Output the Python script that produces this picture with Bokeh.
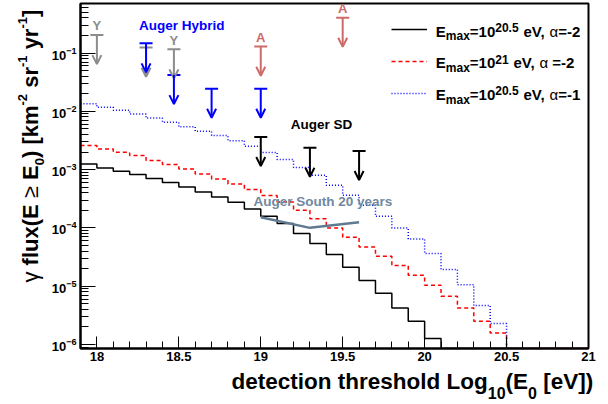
import math
from bokeh.plotting import figure
from bokeh.layouts import column, row
from bokeh.models import (ColumnDataSource, Label, LabelSet, Arrow, OpenHead,
                          FixedTicker, Range1d, Legend, LegendItem)
from bokeh.core.properties import value
from bokeh.embed import file_html
from bokeh.resources import INLINE

# ---------------- data ----------------
bin_edges = [17.9, 18.0, 18.1, 18.2, 18.3, 18.4, 18.5, 18.6, 18.7, 18.8, 18.9,
             19.0, 19.1, 19.2, 19.3, 19.4, 19.5, 19.6, 19.7, 19.8, 19.9,
             20.0, 20.1, 20.2, 20.3, 20.4, 20.5, 20.6, 20.7, 20.8, 20.9, 21.0]

flux_205_a2 = [1.25e-3, 1.06e-3, 9.35e-4, 8.2e-4, 7.0e-4, 5.99e-4, 5.03e-4, 4.13e-4,
               3.39e-4, 2.75e-4, 2.11e-4, 1.58e-4, 1.19e-4, 7.98e-5, 5.38e-5, 3.49e-5,
               2.11e-5, 1.25e-5, 7.55e-6, 4.23e-6, 2.50e-6, 1.26e-6,
               0, 0, 0, 0, 0, 0, 0, 0, 0]
flux_21_a2 = [2.58e-3, 2.25e-3, 1.98e-3, 1.74e-3, 1.43e-3, 1.22e-3, 1.02e-3, 8.41e-4,
              6.90e-4, 5.66e-4, 4.54e-4, 3.58e-4, 2.78e-4, 2.00e-4, 1.44e-4, 9.96e-5,
              6.90e-5, 4.70e-5, 3.26e-5, 2.26e-5, 1.54e-5, 1.04e-5, 6.71e-6, 4.23e-6,
              2.50e-6, 1.57e-6, 0, 0, 0, 0, 0]
flux_205_a1 = [1.35e-2, 1.17e-2, 1.04e-2, 8.99e-3, 7.68e-3, 6.47e-3, 5.42e-3, 4.54e-3,
               3.83e-3, 3.14e-3, 2.51e-3, 1.96e-3, 1.49e-3, 1.09e-3, 7.98e-4, 5.38e-4,
               3.62e-4, 2.44e-4, 1.58e-4, 9.96e-5, 6.45e-5, 3.62e-5, 1.93e-5, 1.06e-5,
               4.65e-6, 2.28e-6, 0, 0, 0, 0, 0]

yakutsk_x = [18.0, 18.3, 18.47]
yakutsk_lim = [0.204, 0.124, 0.116]
yakutsk_lab = ["Y", "", "Y"]
agasa_x = [19.0, 19.5]
agasa_lim = [0.129, 0.405]
agasa_lab = ["A", "A"]
hybrid_x = [18.3, 18.47, 18.7, 19.0]
hybrid_lim = [0.147, 0.042, 0.0245, 0.0245]
sd_x = [19.0, 19.3, 19.6]
sd_lim = [3.64e-3, 2.38e-3, 2.09e-3]

south20_x = [19.0, 19.3, 19.6]
south20_y = [1.52e-4, 1.0e-4, 1.25e-4]

x_ticks = [18, 18.5, 19, 19.5, 20, 20.5, 21]
x_tick_labels = ["18", "18.5", "19", "19.5", "20", "20.5", "21"]

# ---------------- main figure ----------------
Y_LO, Y_HI = 10 ** -6.07, 10 ** -0.15
SANS = "Liberation Sans"
TOP_B, BOT_B = 3, 19          # frame spans y = 3 .. 348
ROW_H = 367

p = figure(width=560, height=ROW_H, x_range=Range1d(17.9, 21.0),
           y_range=Range1d(Y_LO, Y_HI), y_axis_type="log",
           output_backend="svg", toolbar_location=None,
           min_border_left=30, min_border_right=20, min_border_top=TOP_B,
           min_border_bottom=BOT_B)
p.grid.visible = False
p.outline_line_color = "black"
p.outline_line_width = 2
p.background_fill_color = "white"
p.border_fill_color = "white"

for ax in (p.xaxis[0], p.yaxis[0]):
    ax.axis_line_width = 2
    ax.major_tick_out = 0
    ax.minor_tick_out = 0
    ax.major_tick_line_width = 1
    ax.minor_tick_line_width = 1
    ax.major_label_text_font = SANS
    ax.major_label_text_font_style = "bold"
    ax.major_label_text_font_size = "13px"
    ax.major_label_text_color = "black"
p.xaxis.major_label_standoff = 3
p.yaxis.major_label_standoff = 4

p.xaxis.ticker = FixedTicker(ticks=x_ticks,
                             minor_ticks=[round(17.9 + 0.1 * i, 2) for i in range(32)])
p.xaxis.major_label_overrides = dict(zip(x_ticks, x_tick_labels))
p.xaxis.major_tick_in = 12
p.xaxis.minor_tick_in = 7
p.yaxis.major_tick_in = 15
p.yaxis.minor_tick_in = 8


def step_vals(vals):
    ys = [v if v > 0 else Y_LO for v in vals]
    return ys + [ys[-1]]


r_blue = p.step(bin_edges, step_vals(flux_205_a1), mode="after", line_color="#0000ff",
                line_width=1.5, line_dash="1 2")
r_red = p.step(bin_edges, step_vals(flux_21_a2), mode="after", line_color="#ff0000",
               line_width=1.5, line_dash="4 3")
r_black = p.step(bin_edges, step_vals(flux_205_a2), mode="after", line_color="black",
                 line_width=1.5)

# Auger South 20 years sensitivity
p.line(south20_x, south20_y, line_color="#5f7a90", line_width=2.5)

# upper-limit arrows
ARROW_DEC = 0.5


def limits(xs, lims, color, labels=None):
    tips = [v * 10 ** -ARROW_DEC for v in lims]
    src = ColumnDataSource(dict(x=xs, top=lims, tip=tips,
                                lab=labels if labels else [""] * len(xs)))
    p.add_layout(Arrow(x_start="x", y_start="top", x_end="x", y_end="tip", source=src,
                       line_color=color, line_width=2,
                       end=OpenHead(size=9, line_color=color, line_width=2)))
    p.scatter("x", "top", source=src, marker="dash", size=13, line_color=color,
              line_width=2)
    if labels:
        p.add_layout(LabelSet(x="x", y="top", text="lab", source=src, y_offset=9,
                              text_align="center", text_baseline="middle",
                              text_font=value(SANS), text_font_style="bold",
                              text_font_size="13px", text_color=color))


limits(yakutsk_x, yakutsk_lim, "#8c8c8c", yakutsk_lab)
limits(agasa_x, agasa_lim, "#cd6a6a", agasa_lab)
limits(hybrid_x, hybrid_lim, "#0000ff")
limits(sd_x, sd_lim, "black")

# text labels in data coordinates (anchored at their left/middle)
for txt, x, y, color in [("Auger Hybrid", 18.257, 0.295, "#0000ff"),
                         ("Auger SD", 19.183, 5.9e-3, "black"),
                         ("Auger South 20 years", 18.956, 2.85e-4, "#7088a0")]:
    p.add_layout(Label(x=x, y=y, text=txt, text_font=SANS, text_font_style="bold",
                       text_font_size="13.5px", text_color=color,
                       text_align="left", text_baseline="middle"))

# legend (line samples)
legend = Legend(items=[LegendItem(label=" ", renderers=[r_black]),
                       LegendItem(label=" ", renderers=[r_red]),
                       LegendItem(label=" ", renderers=[r_blue])],
                location=(311, 245), glyph_width=36, glyph_height=20,
                label_height=20, spacing=12, padding=0, margin=0,
                border_line_color=None, background_fill_alpha=0,
                label_text_font_size="1px", label_width=1)
p.add_layout(legend)

# ---------------- rich text helper ----------------
W = {' ': 278, '(': 333, ')': 333, '[': 333, ']': 333, '-': 333, '=': 584, ',': 278,
     '.': 278, 'a': 556, 'b': 611, 'c': 556, 'd': 611, 'e': 556, 'f': 333, 'g': 611,
     'h': 611, 'i': 278, 'k': 556, 'l': 278, 'm': 889, 'n': 611, 'o': 611, 'r': 389,
     's': 556, 't': 333, 'u': 611, 'x': 556, 'y': 556, 'E': 667, 'V': 667, 'L': 611,
     '≥': 549, 'α': 578, 'γ': 500}
MID = 0.33  # centre of the text box above the baseline, in em


def width(s, size):
    return sum(W.get(c, 556) for c in s) * size / 1000.0


def rich(fig, runs, x0, y0, vertical=False):
    adv = 0.0
    for text, size, shift, style in runs:
        body = text.strip(" ")
        lead = width(text[:len(text) - len(text.lstrip(" "))], size)
        if body:
            along = adv + lead + width(body, size) / 2.0
            perp = shift + MID * size
            if vertical:
                lab = Label(x=x0 - perp, y=y0 + along, angle=math.pi / 2)
            else:
                lab = Label(x=x0 + along, y=y0 + perp)
            lab.update(text=body, x_units="screen", y_units="screen",
                       text_align="center", text_baseline="middle", text_font=SANS,
                       text_font_style=style, text_font_size=f"{size}px",
                       text_color="black")
            fig.add_layout(lab)
        adv += width(text, size)


B = "bold"
N = "normal"

# frame of p: left at x=78, bottom at y=348 (picture pixels)
legend_rows = [("20.5", "=-2"), ("21", " =-2"), ("20.5", "=-1")]
for i, (expo, alpha_txt) in enumerate(legend_rows):
    base = 348 - (35.5 + 31.7 * i)
    rich(p, [("E", 15, 0, B), ("max", 12, -4.3, B), ("=10", 15, 0, B),
             (expo, 12, 4.7, B), (" eV, ", 15, 0, B), ("α", 15, 0, N),
             (alpha_txt, 15, 0, B)], 355.3, base)


def blank(w, h, top=0, bottom=0):
    f = figure(width=w, height=h, x_range=Range1d(0, 1), y_range=Range1d(0, 1),
               x_axis_location=None, y_axis_location=None,
               output_backend="svg", toolbar_location=None,
               min_border_left=0, min_border_right=0, min_border_top=top,
               min_border_bottom=bottom)
    f.grid.visible = False
    f.outline_line_color = None
    f.background_fill_color = "white"
    f.border_fill_color = "white"
    return f


# y-axis title panel (x 0..48); its frame matches the main frame (y 3..348)
# baseline at x=37, text starts at y=282 -> 66 px above the frame bottom
ytitle = blank(48, ROW_H, TOP_B, BOT_B)
rich(ytitle, [("γ", 22, 0, N), (" flux(E ", 22, 0, B), ("≥", 22, 0, N),
              (" E", 22, 0, B), ("0", 13, -6, B), (") [km", 22, 0, B),
              ("-2", 13, 11, B), (" sr", 22, 0, B), ("-1", 13, 11, B),
              (" yr", 22, 0, B), ("-1", 13, 11, B), ("]", 22, 0, B)],
     37, 66, vertical=True)

# x-axis title panel (x 0..608, y 367..404); baseline at y=388
xtitle = blank(608, 404 - ROW_H)
rich(xtitle, [("detection threshold Log", 22.5, 0, B), ("10", 16, -10, B),
              ("(E", 22.5, 0, B), ("0", 16, -10, B), (" [eV])", 22.5, 0, B)],
     231, 16)

layout = column(row(ytitle, p, spacing=0), xtitle, spacing=0)
open("out.html", "w").write(file_html(layout, INLINE))
